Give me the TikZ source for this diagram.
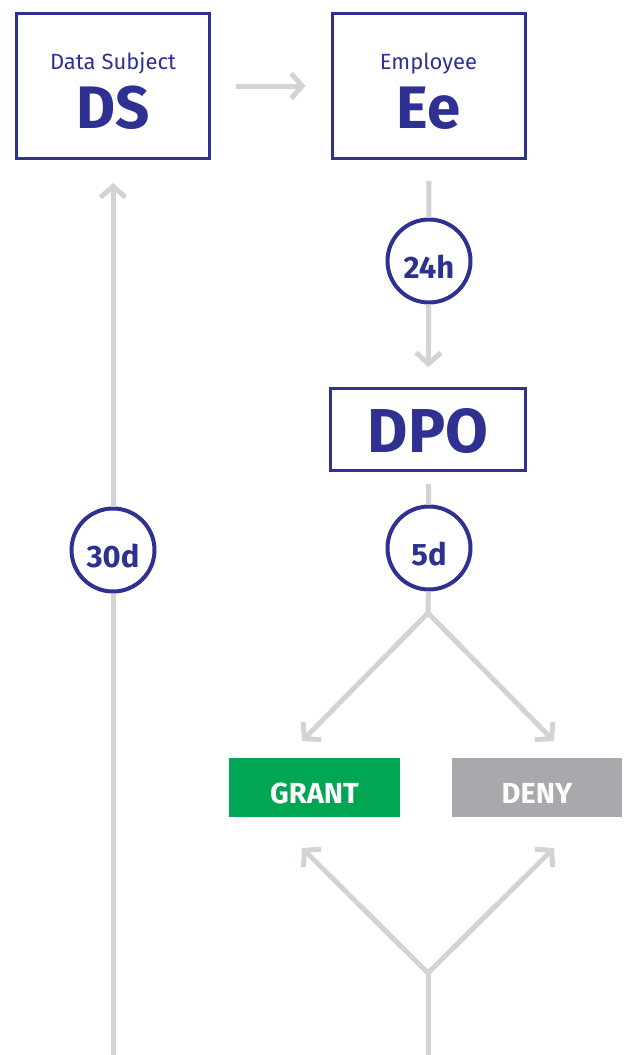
\documentclass[tikz,border=0pt]{standalone}
\usepackage{fontspec}
\setmainfont{Fira Sans}
\usetikzlibrary{arrows.meta}
\definecolor{dpblue}{HTML}{2E3192}
\definecolor{flowgrey}{HTML}{D1D3D4}
\definecolor{grantgreen}{HTML}{00A651}
\definecolor{denygrey}{HTML}{A7A9AC}
\tikzset{
  party/.style={draw=dpblue, line width=3pt, inner sep=0pt, minimum width=193pt, minimum height=145pt},
  clock/.style={circle, draw=dpblue, line width=4pt, fill=white, inner sep=0pt, minimum size=83pt,
    text=dpblue, text height=34pt, text depth=0pt, font=\fontsize{31}{32}\selectfont\bfseries},
  verdict/.style={inner sep=0pt, minimum width=171pt, minimum height=59pt, text=white,
    text height=31pt, text depth=0pt, font=\fontsize{29}{30}\selectfont\bfseries},
  flow/.style={draw=flowgrey, line width=5pt},
  >={Straight Barb[length=11pt, width=25pt, sharp]}
}
\begin{document}
\begin{tikzpicture}[x=1pt, y=-1pt]
    \useasboundingbox (0,0) rectangle (628,1055);

    % Data subject and employee
    \node[party] (ds) at (113,86) {};
    \node[anchor=base, text=dpblue, font=\fontsize{22}{24}\selectfont] (dscap) at (113,69) {Data Subject};
    \node[anchor=base, text=dpblue, font=\fontsize{60}{61}\selectfont\bfseries] (dstxt) at (113,128) {DS};
    \node[party] (ee) at (428.5,86) {};
    \node[anchor=base, text=dpblue, font=\fontsize{22}{24}\selectfont] (eecap) at (428.5,69) {Employee};
    \node[anchor=base, text=dpblue, font=\fontsize{60}{61}\selectfont\bfseries] (eetxt) at (428.5,128) {Ee};
    \draw[flow, ->, shorten <=25pt, shorten >=25pt] (ds) -- (ee);

    % Employee to DPO
    \node[clock] (h24) at (429,261) {24h};
    \node[party, minimum width=195pt, minimum height=82pt] (dpo) at (428,429.5) {};
    \node[anchor=base, text=dpblue, font=\fontsize{62}{63}\selectfont\bfseries] (dpotxt) at (428,452) {DPO};
    \draw[flow, shorten <=21pt] (ee) -- (h24);
    \draw[flow, ->, shorten >=20pt] (h24) -- (dpo);

    % Decision
    \node[clock] (d5) at (429,548) {5d};
    \draw[flow, shorten <=12pt] (dpo) -- (d5);
    \coordinate (split) at (428,613);
    \coordinate (grantin) at (302,741);
    \coordinate (denyin) at (554,741);
    \draw[flow] (d5) -- (split);
    \draw[flow, ->] (split) -- (grantin);
    \draw[flow, ->] (split) -- (denyin);
    \node[verdict, fill=grantgreen] (grant) at (314.5,787.5) {GRANT};
    \node[verdict, fill=denygrey, minimum width=170pt] (deny) at (537,787.5) {DENY};

    % Back from below
    \coordinate (merge) at (428,973);
    \coordinate (grantout) at (302,848);
    \coordinate (denyout) at (554,848);
    \coordinate (rightend) at (428,1055);
    \draw[flow] (rightend) -- (merge);
    \draw[flow, ->] (merge) -- (grantout);
    \draw[flow, ->] (merge) -- (denyout);

    % Reply to the data subject
    \node[clock] (d30) at (113,550) {30d};
    \coordinate (leftend) at (113,1055);
    \draw[flow] (leftend) -- (d30);
    \draw[flow, ->, shorten >=23pt] (d30) -- (ds);
\end{tikzpicture}
\end{document}
